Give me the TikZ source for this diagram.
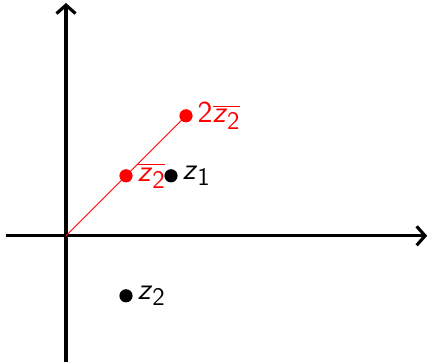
\documentclass[tikz,border=0pt]{standalone}
\usepackage{tikz}
\usepackage{xcolor}
\usetikzlibrary{arrows.meta}

\newcommand{\zsf}[1]{\textit{z}\raisebox{-0.5ex}{\large #1}}
\newcommand{\zbar}[1]{$\overline{\hbox{\zsf{#1}}}$}

\tikzset{
  axis/.style={line width=1.5pt, ->, >={Straight Barb[length=4pt,width=9pt]}},
  pt/.style={circle, fill=#1, inner sep=0pt, minimum size=0.22cm},
  pt/.default=black,
  lbl/.style={right, font=\Large\sffamily, inner sep=2pt}
}

\begin{document}
\begin{tikzpicture}
\useasboundingbox (-1.1,-2.1) rectangle (6.05,3.93);
% axes
\coordinate (O) at (0,0);
\coordinate (xl) at (-1.0,0);
\coordinate (xr) at (6.02,0);
\coordinate (yb) at (0,-2.1);
\coordinate (yt) at (0,3.88);
\draw[axis] (xl) -- (xr);
\draw[axis] (yb) -- (yt);

% points
\node[pt=red] (zb) at (1,1) {};
\node[pt=red] (zz) at (2,2) {};
\node[pt] (z1) at (1.75,1) {};
\node[pt] (z2) at (1,-1) {};

% ray through conjugate
\draw[red, line width=0.4pt] (O) -- (zz.center);

% labels
\node[lbl, red] at (zb.east) {\zbar{2}};
\node[lbl, red] at (zz.east) {2\zbar{2}};
\node[lbl] at (z1.east) {\zsf{1}};
\node[lbl] at (z2.east) {\zsf{2}};
\end{tikzpicture}
\end{document}
